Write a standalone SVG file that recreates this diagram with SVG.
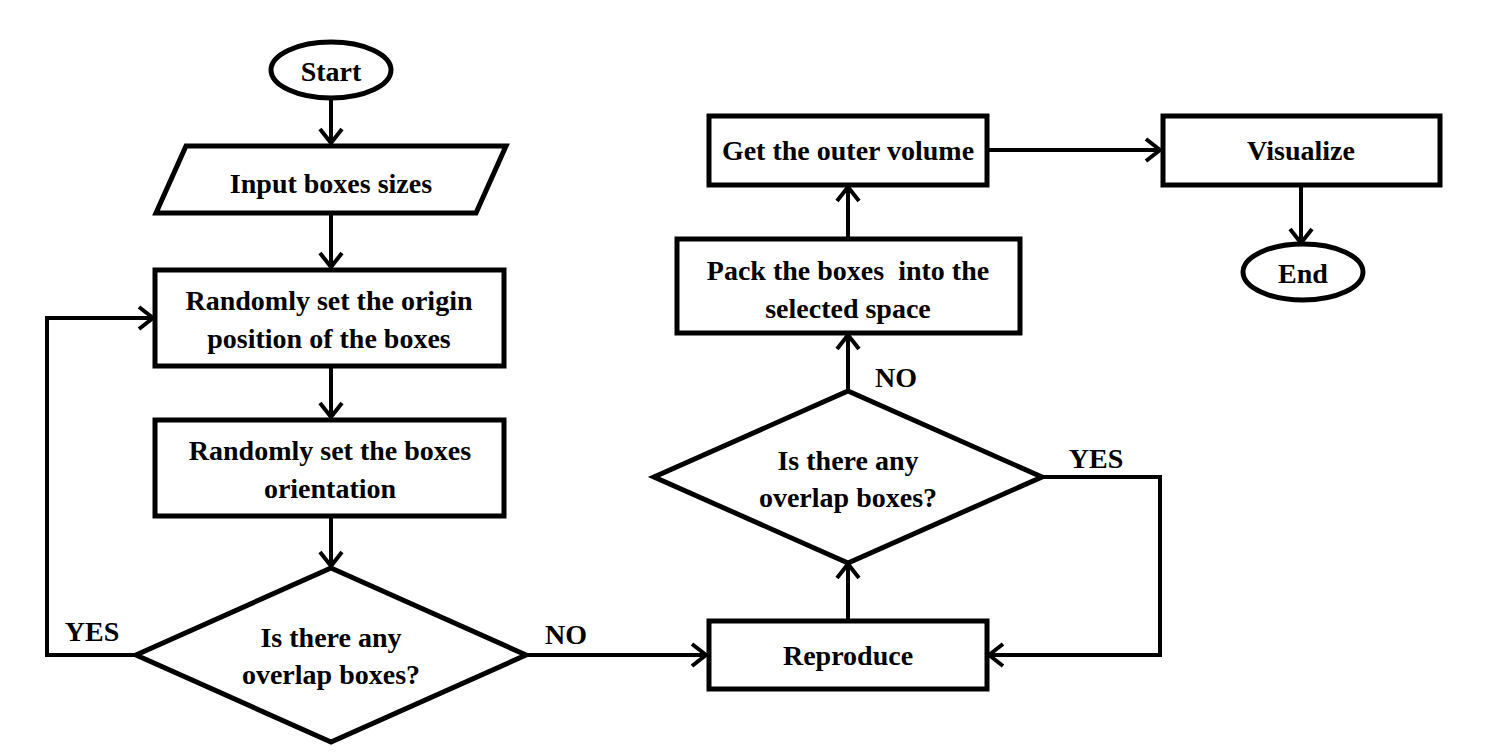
<svg xmlns="http://www.w3.org/2000/svg" width="1500" height="756" viewBox="0 0 1500 756">
<style>
.s{fill:#fff;stroke:#000;stroke-width:5}
.c{fill:none;stroke:#000;stroke-width:4}
.t{font-family:"Liberation Serif","Times New Roman",serif;font-weight:bold;font-size:28px;fill:#000;text-anchor:middle;dominant-baseline:central}
</style>
<defs>
<marker id="a" markerUnits="userSpaceOnUse" markerWidth="20" markerHeight="26" refX="16" refY="13" orient="auto" viewBox="0 0 20 26">
<path d="M2,2 L16,13 L2,24" fill="none" stroke="#000" stroke-width="4"/>
</marker>
</defs>
<rect width="1500" height="756" fill="#fff"/>
<g id="connectors">
<line class="c" x1="331" y1="98" x2="331" y2="143" marker-end="url(#a)"/>
<line class="c" x1="331" y1="214" x2="331" y2="267" marker-end="url(#a)"/>
<line class="c" x1="331" y1="367" x2="331" y2="417" marker-end="url(#a)"/>
<line class="c" x1="331" y1="517" x2="331" y2="566" marker-end="url(#a)"/>
<polyline class="c" points="136,655 47,655 47,318 153,318" marker-end="url(#a)"/>
<line class="c" x1="526" y1="655" x2="706" y2="655" marker-end="url(#a)"/>
<line class="c" x1="848" y1="619" x2="848" y2="564" marker-end="url(#a)"/>
<polyline class="c" points="1042,477 1160,477 1160,655 989,655" marker-end="url(#a)"/>
<line class="c" x1="848" y1="390" x2="848" y2="335" marker-end="url(#a)"/>
<line class="c" x1="848" y1="238" x2="848" y2="187" marker-end="url(#a)"/>
<line class="c" x1="988" y1="150" x2="1160" y2="150" marker-end="url(#a)"/>
<line class="c" x1="1301" y1="185" x2="1301" y2="243" marker-end="url(#a)"/>
<text class="t" x="92" y="631">YES</text>
<text class="t" x="566" y="634">NO</text>
<text class="t" x="1096" y="458">YES</text>
<text class="t" x="896" y="377">NO</text>
</g>
<g id="start">
<ellipse class="s" cx="331" cy="70" rx="60" ry="28"/>
<text class="t" x="331" y="71">Start</text>
</g>
<g id="input">
<polygon class="s" points="186,146 506,146 476,213 156,213"/>
<text class="t" x="331" y="183">Input boxes sizes</text>
</g>
<g id="origin">
<rect class="s" x="155" y="270" width="349" height="96"/>
<text class="t" x="329" y="300">Randomly set the origin</text>
<text class="t" x="329" y="338">position of the boxes</text>
</g>
<g id="orientation">
<rect class="s" x="155" y="420" width="349" height="96"/>
<text class="t" x="330" y="450">Randomly set the boxes</text>
<text class="t" x="330" y="488">orientation</text>
</g>
<g id="decision1">
<polygon class="s" points="331,568 526,655 331,742 136,655"/>
<text class="t" x="331" y="637">Is there any</text>
<text class="t" x="331" y="674">overlap boxes?</text>
</g>
<g id="reproduce">
<rect class="s" x="709" y="621" width="278" height="68"/>
<text class="t" x="848" y="655">Reproduce</text>
</g>
<g id="decision2">
<polygon class="s" points="848,391 1042,477 848,563 654,477"/>
<text class="t" x="848" y="460">Is there any</text>
<text class="t" x="848" y="497">overlap boxes?</text>
</g>
<g id="pack">
<rect class="s" x="677" y="239" width="343" height="94"/>
<text class="t" x="848" y="270" xml:space="preserve">Pack the boxes  into the</text>
<text class="t" x="848" y="308">selected space</text>
</g>
<g id="outer">
<rect class="s" x="709" y="116" width="278" height="69"/>
<text class="t" x="848" y="150">Get the outer volume</text>
</g>
<g id="visualize">
<rect class="s" x="1163" y="116" width="277" height="69"/>
<text class="t" x="1301" y="150">Visualize</text>
</g>
<g id="end">
<ellipse class="s" cx="1303" cy="272" rx="60" ry="28"/>
<text class="t" x="1303" y="273">End</text>
</g>
</svg>
